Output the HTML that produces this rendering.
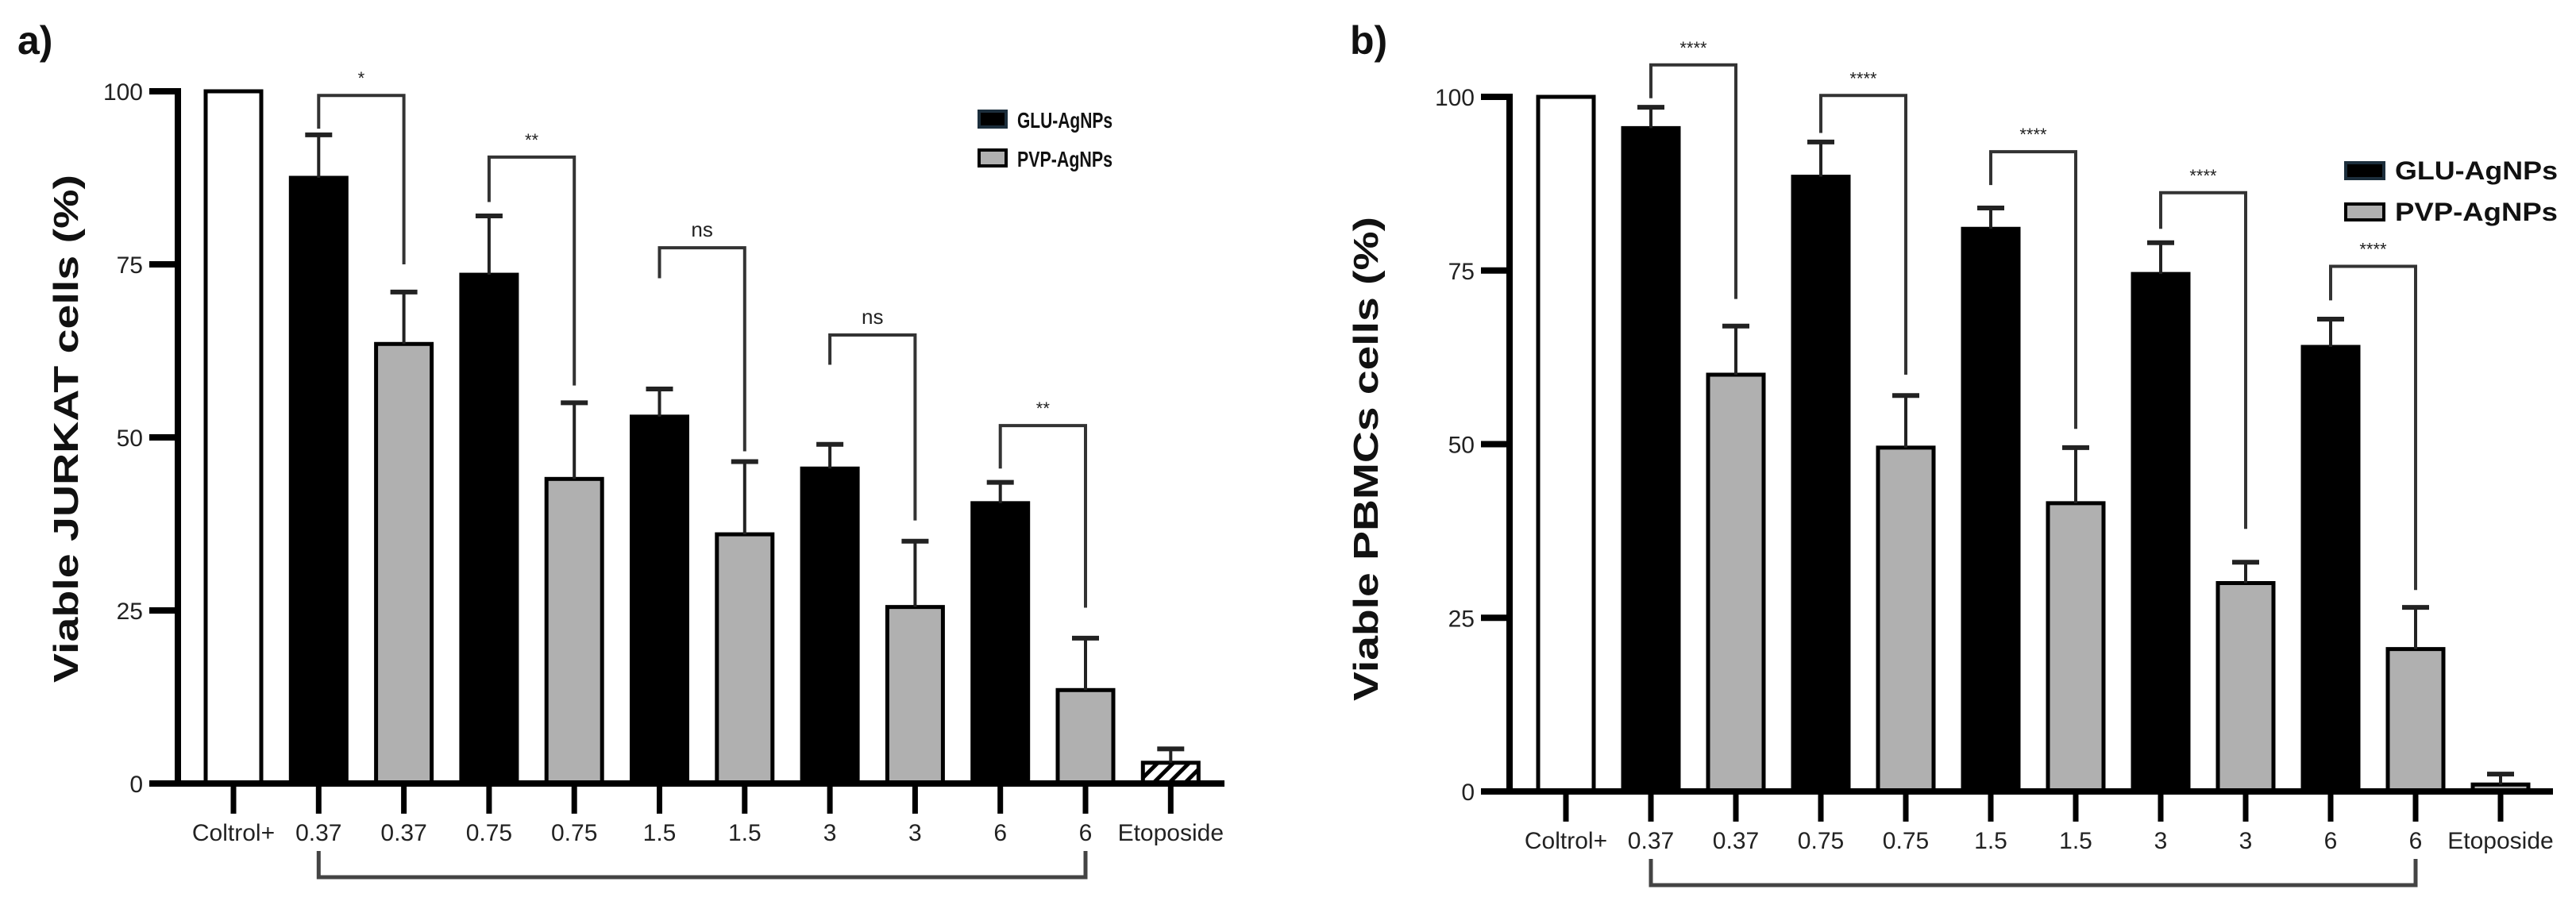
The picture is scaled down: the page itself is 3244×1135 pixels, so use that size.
<!DOCTYPE html>
<html><head><meta charset="utf-8"><style>
html,body{margin:0;padding:0;background:#fff;}
svg{display:block;}
text{font-family:"Liberation Sans Narrow","Liberation Sans",sans-serif;fill:#222;}
.bold{font-family:"Liberation Sans",sans-serif;font-weight:bold;fill:#111;}
</style></head><body>
<svg id="fig" width="3244" height="1135" viewBox="0 0 3244 1135" xmlns="http://www.w3.org/2000/svg">
<defs>
<pattern id="hatch" patternUnits="userSpaceOnUse" width="14" height="14" patternTransform="rotate(45)">
<rect width="14" height="14" fill="#fff"/><rect width="5" height="14" fill="#000"/>
</pattern>
</defs>
<g id="panelA"></g>
<g id="panelB"></g>
</svg>
<script>
const categories = ['Coltrol+','0.37','0.37','0.75','0.75','1.5','1.5','3','3','6','6','Etoposide'];
const yTicks = [0,25,50,75,100];
const seriesNames = ['GLU-AgNPs','PVP-AgNPs'];

const jurkatControl = 100;
const jurkatGlu = [87.5,73.5,53,45.5,40.5];
const jurkatGluErr = [6.2,8.5,4,3.5,3];
const jurkatPvp = [63.5,44,36,25.5,13.5];
const jurkatPvpErr = [7.5,11,10.5,9.5,7.5];
const jurkatEto = 3;
const jurkatEtoErr = 2;
const jurkatSig = ['*','**','ns','ns','**'];
const jurkatBracketTop = [99.4,90.5,77.4,64.8,51.7];
const jurkatBracketLeft = [94.6,84,73,60.5,45.5];
const jurkatBracketRight = [75,57.5,48,38,25.4];

const pbmcControl = 100;
const pbmcGlu = [95.5,88.5,81,74.5,64];
const pbmcGluErr = [3,5,3,4.5,4];
const pbmcPvp = [60,49.5,41.5,30,20.5];
const pbmcPvpErr = [7,7.5,8,3,6];
const pbmcEto = 1;
const pbmcEtoErr = 1.5;
const pbmcSig = ['****','****','****','****','****'];
const pbmcBracketTop = [104.6,100.2,92.1,86.2,75.6];
const pbmcBracketLeft = [99.8,94.8,87.3,81,70.7];
const pbmcBracketRight = [70.9,60,52.2,37.8,29];

const NS='http://www.w3.org/2000/svg';
function mk(parent,tag,attrs,txt){
  const e=document.createElementNS(NS,tag);
  for(const k in attrs) e.setAttribute(k,attrs[k]);
  if(txt!==undefined) e.textContent=txt;
  parent.appendChild(e);
  return e;
}

function drawPanel(g,cfg,d){
  const yS=v=>cfg.y0-(v/100)*(cfg.y0-cfg.y100);
  const xS=i=>cfg.x0+i*cfg.step;
  const bw=70;
  // panel label
  let t=mk(g,'text',{x:cfg.labelX,y:cfg.labelY,'font-size':50,class:'bold'},cfg.label);
  
  
  // y title
  t=mk(g,'text',{x:0,y:0,'font-size':44,class:'bold','text-anchor':'middle',textLength:cfg.titleLen,lengthAdjust:'spacingAndGlyphs',transform:`translate(${cfg.titleX},${cfg.titleY}) rotate(-90)`},cfg.title);
  
  
  // bars
  function bar(i,v,fill,stroke,name){
    const r=mk(g,'rect',{x:xS(i)-bw/2,y:yS(v),width:bw,height:cfg.y0-yS(v),fill:fill,stroke:stroke,'stroke-width':5});
    
    
  }
  function err(i,v,e){
    const top=yS(v+e);
    const l=mk(g,'line',{x1:xS(i),x2:xS(i),y1:yS(v),y2:top,stroke:'#222','stroke-width':4});
    
    
    const c=mk(g,'line',{x1:xS(i)-17,x2:xS(i)+17,y1:top,y2:top,stroke:'#222','stroke-width':6});
    
    
  }
  bar(0,d.control,'#fff','#000','bar-control');
  for(let k=0;k<5;k++){
    bar(1+2*k,d.glu[k],'#000','#000','bar-glu-'+categories[1+2*k]);
    err(1+2*k,d.glu[k],d.gluErr[k]);
    bar(2+2*k,d.pvp[k],'#b0b0b0','#000','bar-pvp-'+categories[2+2*k]);
    err(2+2*k,d.pvp[k],d.pvpErr[k]);
  }
  bar(11,d.eto,d.etoHatch?'url(#hatch)':'#b0b0b0','#000','bar-etoposide');
  err(11,d.eto,d.etoErr);
  // axes
  let a=mk(g,'line',{x1:cfg.axisX,x2:cfg.axisX,y1:cfg.y100-4,y2:cfg.y0+4,stroke:'#000','stroke-width':8});
  
  
  a=mk(g,'line',{x1:cfg.axisX-36,x2:cfg.xEnd,y1:cfg.y0,y2:cfg.y0,stroke:'#000','stroke-width':8});
  
  
  yTicks.forEach(v=>{
    const tk=mk(g,'line',{x1:cfg.axisX-36,x2:cfg.axisX,y1:yS(v),y2:yS(v),stroke:'#000','stroke-width':8});
    
    
    const tl=mk(g,'text',{x:cfg.axisX-44,y:yS(v)+11,'font-size':30,'text-anchor':'end'},String(v));
    
    
  });
  categories.forEach((c,i)=>{
    const tk=mk(g,'line',{x1:xS(i),x2:xS(i),y1:cfg.y0,y2:cfg.y0+38,stroke:'#000','stroke-width':7});
    
    
    const tl=mk(g,'text',{x:xS(i),y:cfg.y0+72,'font-size':30,'text-anchor':'middle'},c);
    
    
  });
  // bottom bracket
  const bb=mk(g,'path',{d:`M${xS(1)},${cfg.y0+85} V${cfg.y0+118} H${xS(10)} V${cfg.y0+85}`,fill:'none',stroke:'#444','stroke-width':5});
  
  
  // significance brackets
  for(let k=0;k<5;k++){
    const xl=xS(1+2*k), xr=xS(2+2*k), yt=yS(d.bTop[k]);
    const p=mk(g,'path',{d:`M${xl},${yS(d.bLeft[k])} V${yt} H${xr} V${yS(d.bRight[k])}`,fill:'none',stroke:'#333','stroke-width':4});
    
    
    const s=mk(g,'text',{x:(xl+xr)/2,y:yt-14,'font-size':d.sig[k]==='ns'?26:22,'text-anchor':'middle'},d.sig[k]);
    
    
  }
  // legend
  const lg=mk(g,'g',{});
  
  
  seriesNames.forEach((n,j)=>{
    const yy=cfg.legY+j*cfg.legGap;
    const sw=mk(lg,'rect',{x:cfg.legX,y:yy,width:cfg.legW,height:20,fill:j===0?'#000':'#b0b0b0',stroke:j===0?'#1c2e3c':'#000','stroke-width':4});
    
    
    const lt=mk(lg,'text',{x:cfg.legX+cfg.legW+14,y:yy+21,'font-size':cfg.legFont,class:'bold',textLength:cfg.legTextLen,lengthAdjust:'spacingAndGlyphs'},n);
    
    
  });
}

drawPanel(document.getElementById('panelA'),
 {label:'a)',labelX:22,labelY:68,title:'Viable JURKAT cells (%)',titleX:98,titleY:540,titleLen:640,
  x0:294,step:107.3,y0:987,y100:115,axisX:224,xEnd:1542,
  legX:1233,legY:140,legGap:49,legW:34,legFont:28,legTextLen:120},
 {control:jurkatControl,glu:jurkatGlu,gluErr:jurkatGluErr,pvp:jurkatPvp,pvpErr:jurkatPvpErr,eto:jurkatEto,etoErr:jurkatEtoErr,etoHatch:true,
  sig:jurkatSig,bTop:jurkatBracketTop,bLeft:jurkatBracketLeft,bRight:jurkatBracketRight});

drawPanel(document.getElementById('panelB'),
 {label:'b)',labelX:1700,labelY:68,title:'Viable PBMCs cells (%)',titleX:1735,titleY:578,titleLen:610,
  x0:1972,step:107,y0:997,y100:122,axisX:1901,xEnd:3215,
  legX:2954,legY:205,legGap:52,legW:48,legFont:32,legTextLen:205},
 {control:pbmcControl,glu:pbmcGlu,gluErr:pbmcGluErr,pvp:pbmcPvp,pvpErr:pbmcPvpErr,eto:pbmcEto,etoErr:pbmcEtoErr,etoHatch:false,
  sig:pbmcSig,bTop:pbmcBracketTop,bLeft:pbmcBracketLeft,bRight:pbmcBracketRight});
</script>
</body></html>
